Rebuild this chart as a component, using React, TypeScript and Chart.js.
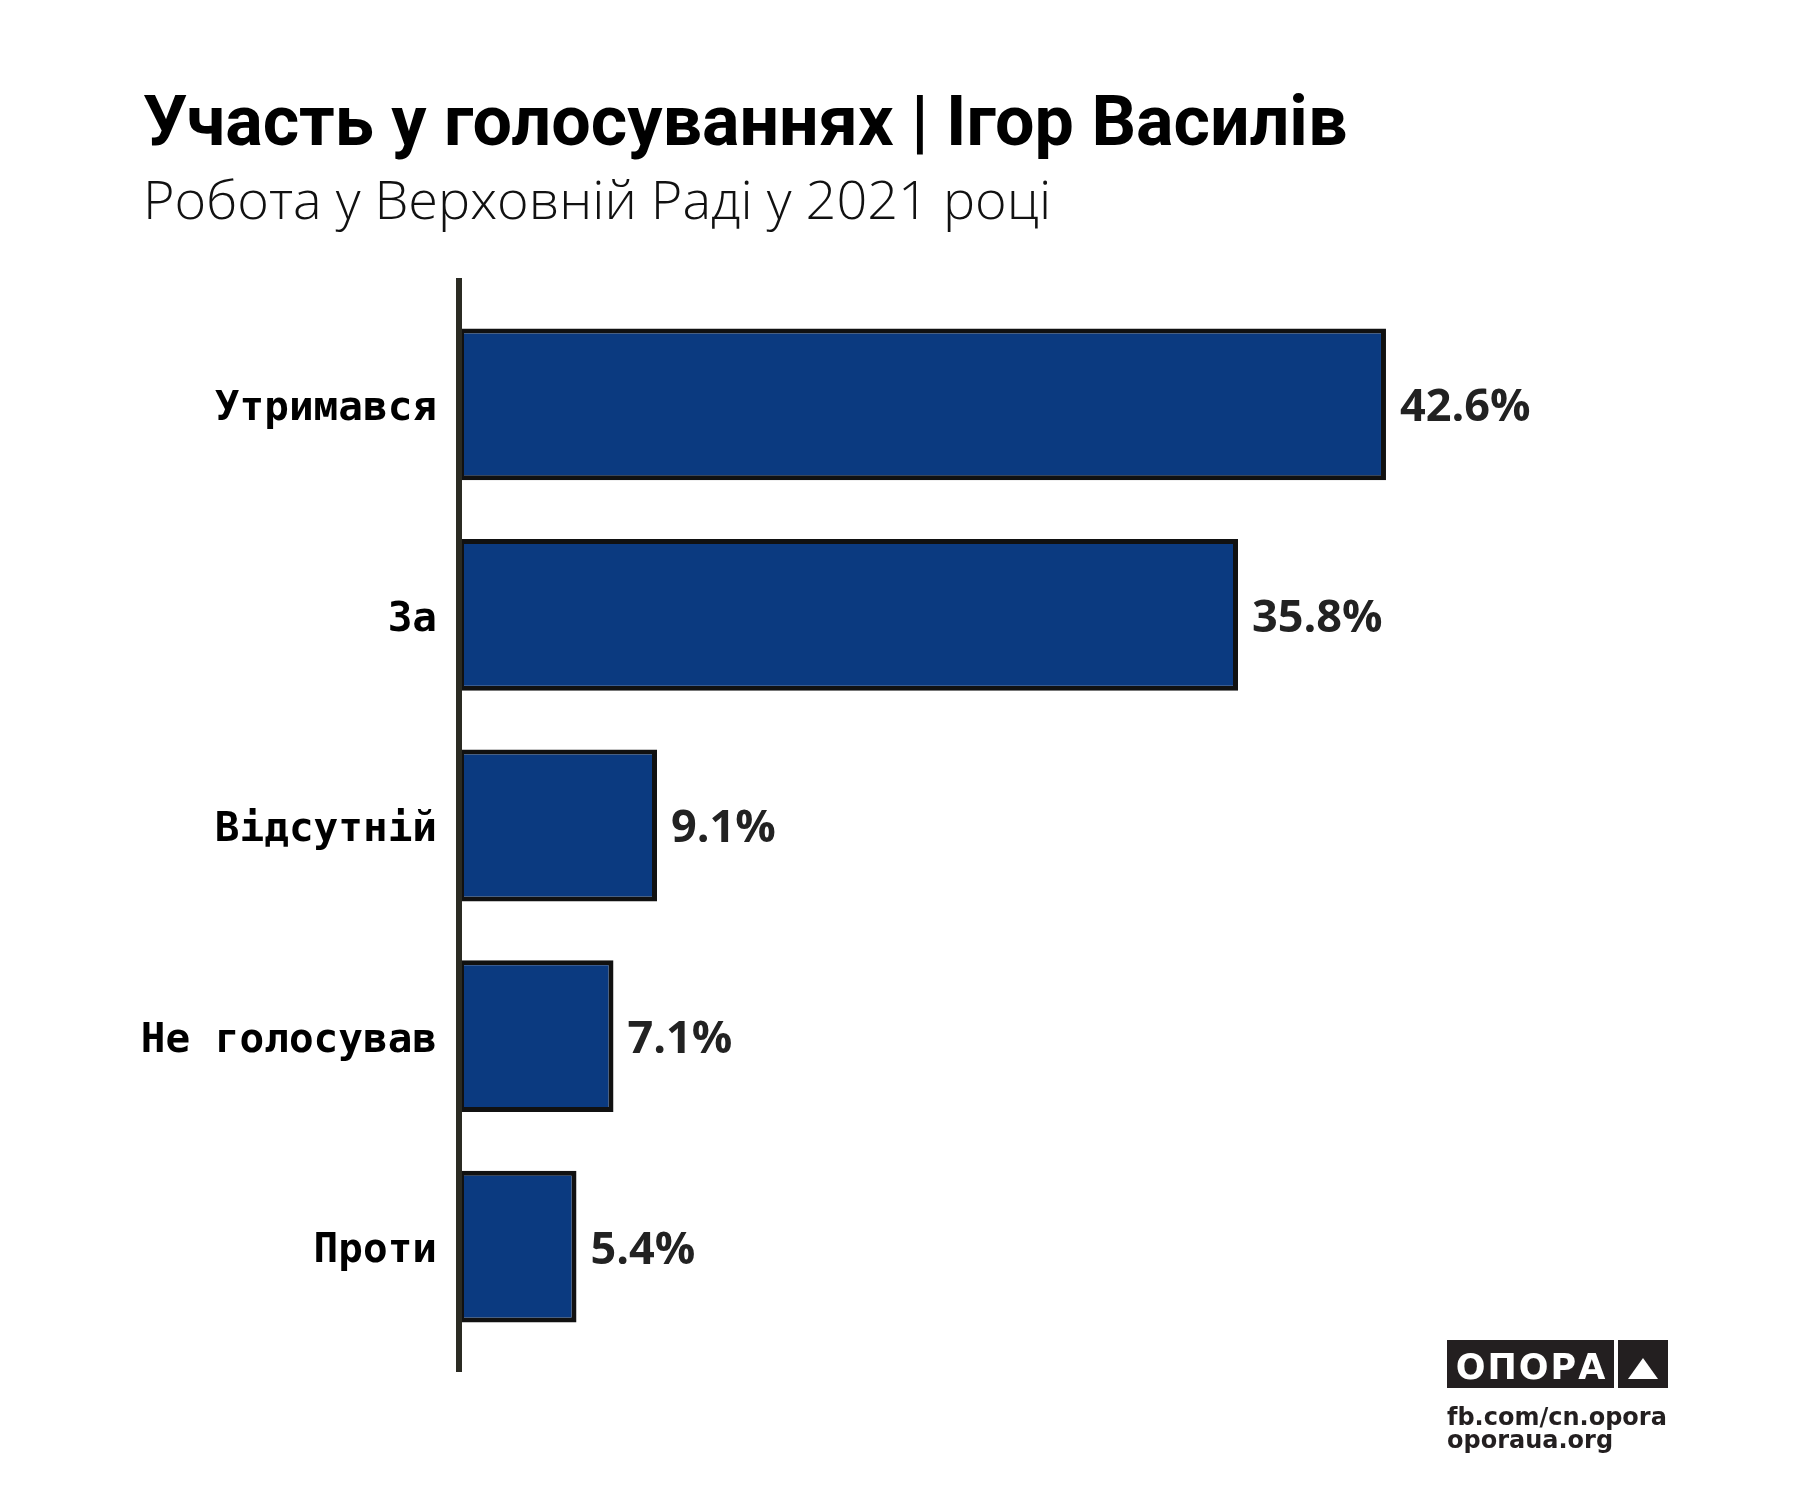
import React, { useEffect, useRef } from "react";
import { Chart, registerables } from "chart.js";

Chart.register(...registerables);

const categories: string[] = ["Утримався", "За", "Відсутній", "Не голосував", "Проти"];
const values: number[] = [42.6, 35.8, 9.1, 7.1, 5.4];
const valueLabels: string[] = ["42.6%", "35.8%", "9.1%", "7.1%", "5.4%"];

const titleText = "Участь у голосуваннях | Ігор Василів";
const subtitleText = "Робота у Верховній Раді у 2021 році";
const logoText = "ОПОРА";
const footerLines: string[] = ["fb.com/cn.opora", "oporaua.org"];

const BAR_FILL = "#0b3a80";
const BAR_BORDER = "#111111";
const AXIS_COLOR = "#2b2b23";

const decorPlugin = {
  id: "decor",
  afterDatasetsDraw(chart: any) {
    const { ctx, chartArea } = chart;
    ctx.save();
    // axis line
    ctx.strokeStyle = AXIS_COLOR;
    ctx.lineWidth = 6;
    ctx.beginPath();
    ctx.moveTo(chartArea.left, chartArea.top - 21);
    ctx.lineTo(chartArea.left, chartArea.bottom + 20);
    ctx.stroke();

    // value labels
    const meta = chart.getDatasetMeta(0);
    ctx.fillStyle = "#222222";
    ctx.font = "700 45px 'Open Sans'";
    ctx.textAlign = "left";
    ctx.textBaseline = "middle";
    meta.data.forEach((bar: any, i: number) => {
      ctx.fillText(valueLabels[i], bar.x + 14, bar.y + 4);
    });

    // title & subtitle
    ctx.textBaseline = "alphabetic";
    ctx.fillStyle = "#000000";
    ctx.font = "700 70px Roboto";
    ctx.fillText(titleText, 143, 145);
    ctx.fillStyle = "#111111";
    ctx.font = "300 54px 'Open Sans'";
    ctx.fillText(subtitleText, 143, 219);

    // logo
    ctx.fillStyle = "#231f20";
    ctx.fillRect(1447, 1340, 167, 48);
    ctx.fillRect(1618, 1340, 50, 48);
    ctx.fillStyle = "#ffffff";
    ctx.font = "700 35px 'DejaVu Sans'";
    ctx.textAlign = "left";
    (ctx as any).letterSpacing = "2px";
    const w = ctx.measureText(logoText).width - 2;
    ctx.fillText(logoText, 1530.5 - w / 2, 1379);
    (ctx as any).letterSpacing = "0px";
    ctx.beginPath();
    ctx.moveTo(1628, 1379);
    ctx.lineTo(1658, 1379);
    ctx.lineTo(1643, 1358);
    ctx.closePath();
    ctx.fill();
    ctx.fillStyle = "#231f20";
    ctx.font = "700 24px 'DejaVu Sans'";
    ctx.fillText(footerLines[0], 1447, 1425);
    ctx.fillText(footerLines[1], 1447, 1448);
    ctx.restore();
  },
};

export default function App() {
  const ref = useRef<HTMLCanvasElement | null>(null);
  useEffect(() => {
    document.body.style.margin = "0";
    if (!ref.current) return;
    const chart = new Chart(ref.current, {
      type: "bar",
      data: {
        labels: categories,
        datasets: [
          {
            data: values,
            backgroundColor: BAR_FILL,
            borderColor: BAR_BORDER,
            borderWidth: 5,
            borderSkipped: false,
            barPercentage: 1,
            categoryPercentage: 0.721,
          },
        ],
      },
      options: {
        indexAxis: "y",
        responsive: false,
        animation: false,
        devicePixelRatio: 1,
        layout: { padding: { top: 299, bottom: 148, right: 253, left: 0 } },
        plugins: {
          legend: { display: false },
          tooltip: { enabled: false },
          title: { display: false },
        },
        scales: {
          x: { display: false, min: 0, max: 50 },
          y: {
            grid: { display: false },
            border: { display: false },
            afterFit: (scale: any) => {
              scale.width = 459;
            },
            ticks: {
              padding: 14,
              labelOffset: 5,
              color: "#000000",
              font: { family: "'DejaVu Sans Mono'", weight: "bold", size: 41 },
            },
          },
        },
      },
      plugins: [decorPlugin],
    });
    return () => chart.destroy();
  }, []);
  return (
    <div style={{ position: "absolute", left: 0, top: 0, width: 1800, height: 1500, background: "#ffffff" }}>
      <canvas ref={ref} width={1800} height={1500} />
    </div>
  );
}
